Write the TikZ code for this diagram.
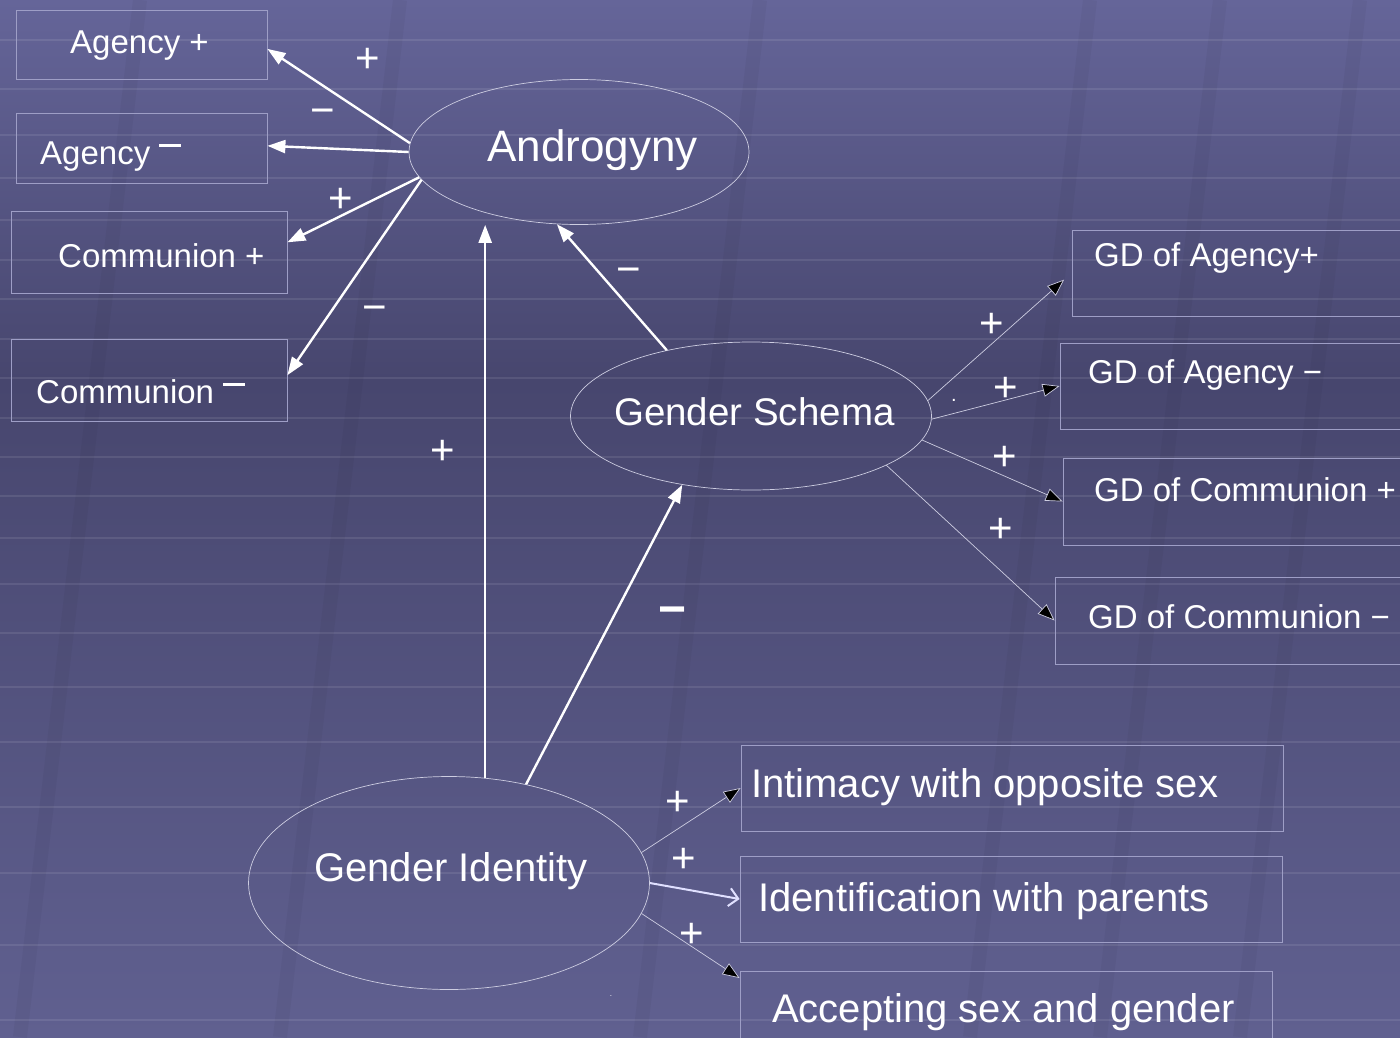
\documentclass[tikz,border=0pt]{standalone}
\usepackage{fontspec}
\setmainfont{Liberation Sans}
\usetikzlibrary{shapes.geometric,arrows.meta,calc}
\definecolor{bgtop}{RGB}{101,101,153}
\definecolor{bgmid}{RGB}{71,70,110}
\definecolor{bgbot}{RGB}{96,96,144}
\definecolor{boxline}{RGB}{158,158,198}
\definecolor{thinline}{RGB}{205,205,225}
\newcommand{\highminus}{\rule[0.52em]{0.66em}{0.075em}}

\begin{document}
\begin{tikzpicture}[x=1pt,y=-1pt,
    bgstripe/.style={white, opacity=0.09, line width=2.5pt},
    bgband/.style={black, opacity=0.035, line width=14pt},
    boxnode/.style={draw=boxline, line width=0.8pt, inner sep=0pt},
    ovalnode/.style={ellipse, draw=thinline, line width=0.7pt, inner sep=0pt},
    lbl/.style={text=white, inner sep=0pt, anchor=base west, font=\fontsize{33}{38}\selectfont},
    biglbl/.style={lbl, font=\fontsize{40}{46}\selectfont},
    sign/.style={text=white, inner sep=0pt, font=\fontsize{42}{42}\selectfont},
    boldarrow/.style={white, line width=2.4pt, -{Triangle[length=18pt,width=13pt]}},
    thinarrow/.style={thinline, line width=0.7pt, -{Triangle[length=17pt,width=13pt,fill=black]}},
    openarrow/.style={white!88!blue, line width=2pt, -{Straight Barb[length=9pt,width=18pt]}}]

    % Background
    \fill[top color=bgtop, bottom color=bgmid] (0,0) rectangle (1400,380);
    \fill[top color=bgmid, bottom color=bgbot] (0,380) rectangle (1400,1037);
    \useasboundingbox (0,0) rectangle (1400,1037);
    \clip (0,0) rectangle (1400,1037);
    \foreach \y in {40,89,135,178,220,260,299,339,378,418,457,496,538,584,633,687,742,807,873,945,1020} {
        \draw[bgstripe] (0,\y) -- (1400,\y);
    }
    \foreach \x in {140,400,760,1090,1220,1360} {
        \draw[bgband] (\x,0) -- (\x-120,1037);
    }

    % Ovals
    \node[ovalnode, minimum width=340pt, minimum height=145pt] (andro) at (579,152) {};
    \node[ovalnode, minimum width=361pt, minimum height=148pt] (schema) at (751,416) {};
    \node[ovalnode, minimum width=401pt, minimum height=213pt] (ident) at (449,883) {};
    \node[lbl, font=\fontsize{44}{50}\selectfont] (androT) at (487,161) {Androgyny};
    \node[lbl, font=\fontsize{38.5}{44}\selectfont] (schemaT) at (614,425) {Gender Schema};
    \node[lbl, font=\fontsize{40}{46}\selectfont] (identT) at (314,881) {Gender Identity};

    % Left boxes
    \node[boxnode, minimum width=251pt, minimum height=69pt] (agp) at (141.5,44.5) {};
    \node[boxnode, minimum width=251pt, minimum height=70pt] (agm) at (141.5,148) {};
    \node[boxnode, minimum width=276pt, minimum height=82pt] (cop) at (149,252) {};
    \node[boxnode, minimum width=276pt, minimum height=82pt] (com) at (149,380) {};
    \node[lbl] (agpT) at (70,53) {Agency +};
    \node[lbl] (agmT) at (40,164) {Agency \highminus};
    \node[lbl] (copT) at (58,267) {Communion +};
    \node[lbl] (comT) at (36,403) {Communion \highminus};

    % Right boxes
    \node[boxnode, minimum width=348pt, minimum height=86pt] (gdap) at (1246,273) {};
    \node[boxnode, minimum width=360pt, minimum height=86pt] (gdam) at (1240,386) {};
    \node[boxnode, minimum width=357pt, minimum height=87pt] (gdcp) at (1241.5,501.5) {};
    \node[boxnode, minimum width=365pt, minimum height=87pt] (gdcm) at (1237.5,620.5) {};
    \node[lbl] (gdapT) at (1094,266) {GD of Agency+};
    \node[lbl] (gdamT) at (1088,383) {GD of Agency −};
    \node[lbl] (gdcpT) at (1094,501) {GD of Communion +};
    \node[lbl] (gdcmT) at (1088,628) {GD of Communion −};

    % Bottom boxes
    \node[boxnode, minimum width=542pt, minimum height=86pt] (inti) at (1012,788) {};
    \node[boxnode, minimum width=542pt, minimum height=86pt] (iden) at (1011,899) {};
    \node[boxnode, minimum width=532pt, minimum height=89pt] (acce) at (1006,1015.5) {};
    \node[biglbl] (intiT) at (751,797) {Intimacy with opposite sex};
    \node[biglbl] (idenT) at (758,911) {Identification with parents};
    \node[biglbl] (acceT) at (772,1022) {Accepting sex and gender};

    % Arrows from Androgyny
    \draw[boldarrow] (andro.177.6) -- (agp.-2.5);
    \draw[boldarrow] (andro.180) -- (agm.1.8);
    \draw[boldarrow] (andro.189.5) -- (cop.4);
    \draw[boldarrow] (andro.190.6) -- (com.2.5);

    % Arrows into Androgyny and Gender Schema
    \draw[boldarrow] (ident.71.6) -- (ident.71.6 |- andro.south);
    \draw[boldarrow] (schema.142.8) -- (andro.253.2);
    \draw[boldarrow] (ident.52) -- (schema.225.8);

    % Thin arrows
    \draw[thinarrow, shorten >=10pt] (schema.5.7) -- (gdap.west);
    \draw[thinarrow] (schema.-1) -- (gdam.west);
    \draw[thinarrow] (schema.-8.8) -- (gdcp.west);
    \draw[thinarrow] (schema.-20) -- (gdcm.west);
    \draw[thinarrow] (ident.9.2) -- (inti.west);
    \draw[openarrow] (ident.0) -- (iden.west);
    \draw[thinarrow] (ident.-9.5) -- (acce.172.6);

    % Signs
    \node[sign] (s1) at (368,60) {+};
    \node[sign] (s2) at (323,117) {−};
    \node[sign] (s3) at (341,200) {+};
    \node[sign] (s4) at (375,314) {−};
    \node[sign] (s5) at (443,452) {+};
    \node[sign] (s6) at (629,276) {−};
    \node[sign, font=\fontsize{48}{48}\selectfont\bfseries] (s7) at (673,616) {−};
    \node[sign] (s8) at (992,325) {+};
    \node[sign] (s9) at (1006,389) {+};
    \node[sign] (s10) at (1005,458) {+};
    \node[sign] (s11) at (1001,530) {+};
    \node[sign] (s12) at (678,803) {+};
    \node[sign] (s13) at (684,860) {+};
    \node[sign] (s14) at (692,935) {+};
    \node[sign, font=\fontsize{20}{20}\selectfont] (dot1) at (954,400) {.};
    \node[sign, font=\fontsize{8}{8}\selectfont] (dot2) at (611,996) {.};
\end{tikzpicture}
\end{document}
